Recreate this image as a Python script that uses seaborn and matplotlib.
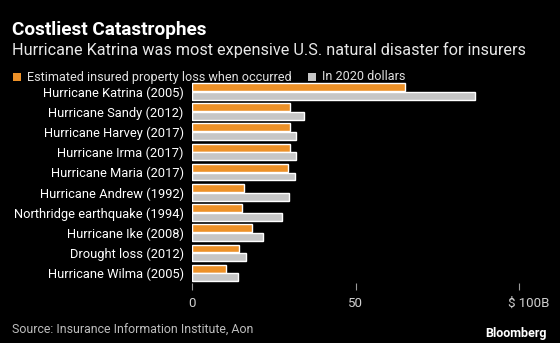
import matplotlib
matplotlib.use("Agg")
import matplotlib.pyplot as plt
import matplotlib.transforms as mtransforms
from matplotlib.patches import Rectangle
import seaborn as sns
import pandas as pd

events = [
    "Hurricane Katrina (2005)",
    "Hurricane Sandy (2012)",
    "Hurricane Harvey (2017)",
    "Hurricane Irma (2017)",
    "Hurricane Maria (2017)",
    "Hurricane Andrew (1992)",
    "Northridge earthquake (1994)",
    "Hurricane Ike (2008)",
    "Drought loss (2012)",
    "Hurricane Wilma (2005)",
]
loss_when_occurred = [65.0, 30.0, 30.0, 30.0, 29.5, 16.0, 15.3, 18.2, 14.5, 10.5]
loss_2020_dollars = [86.5, 34.1, 31.9, 31.9, 31.4, 29.8, 27.5, 21.6, 16.6, 14.0]
series_names = ["Estimated insured property loss when occurred", "In 2020 dollars"]
tick_values = [0, 50, 100]
tick_labels = ["0", "50", "$ 100B"]

ORANGE = "#ED9128"
GRAY = "#C6C6C6"
BG = "black"

df = pd.DataFrame({
    "event": events * 2,
    "loss": loss_when_occurred + loss_2020_dollars,
    "series": [series_names[0]] * len(events) + [series_names[1]] * len(events),
})

sns.set_theme(style="dark")
plt.rcParams["font.family"] = ["Roboto", "DejaVu Sans"]

fig = plt.figure(figsize=(5.6, 3.43), dpi=100, facecolor=BG)
ax = fig.add_axes([192 / 560, 1 - 283.1 / 343, (519 - 192) / 560, (283.1 - 81.4) / 343])
ax.set_facecolor(BG)

sns.barplot(
    data=df, x="loss", y="event", hue="series", order=events,
    hue_order=series_names, palette=[ORANGE, GRAY], orient="h",
    width=0.86, gap=0.08, saturation=1, legend=False, ax=ax,
)

ax.set_xlim(0, 100)
ax.set_xticks(tick_values)
ax.set_xticklabels(tick_labels)
ax.set_xlabel("")
ax.set_ylabel("")
for s in ax.spines.values():
    s.set_visible(False)
ax.grid(False)
ax.tick_params(axis="x", colors="#9a9a9a", length=5, width=0.8, direction="out",
               pad=5, labelcolor="#d0d0d0", labelsize=9.5, bottom=True)
ax.tick_params(axis="y", length=0, pad=6, labelcolor="white", labelsize=9.3)
last = ax.get_xticklabels()[-1]
last.set_transform(last.get_transform() + mtransforms.ScaledTranslation(10 / 100, 0, fig.dpi_scale_trans))

# Header
fig.text(12 / 560, 1 - 35 / 343, "Costliest Catastrophes", color="white",
         fontsize=13.7, fontweight="bold", ha="left", va="baseline")
fig.text(12 / 560, 1 - 55 / 343, "Hurricane Katrina was most expensive U.S. natural disaster for insurers",
         color="#e8e8e8", fontsize=11.7, ha="left", va="baseline")

# Legend row
legend_y = 1 - 77 / 343
sq_w, sq_h = 8 / 560, 8 / 343
for x0, name, col in [(13, series_names[0], ORANGE), (308, series_names[1], GRAY)]:
    fig.patches.append(Rectangle((x0 / 560, legend_y - sq_h / 2), sq_w, sq_h,
                                 transform=fig.transFigure, facecolor=col, edgecolor="none"))
    fig.text((x0 + 14) / 560, legend_y, name, color="#e0e0e0", fontsize=9.1,
             ha="left", va="center")

# Footer
fig.text(12.5 / 560, 1 - 330 / 343, "Source: Insurance Information Institute, Aon",
         color="#bdbdbd", fontsize=8.9, ha="left", va="center")
fig.text(547 / 560, 1 - 333 / 343, "Bloomberg", color="white", fontsize=9,
         fontweight="bold", ha="right", va="center")

fig.savefig("out.png", dpi=100, facecolor=BG)
